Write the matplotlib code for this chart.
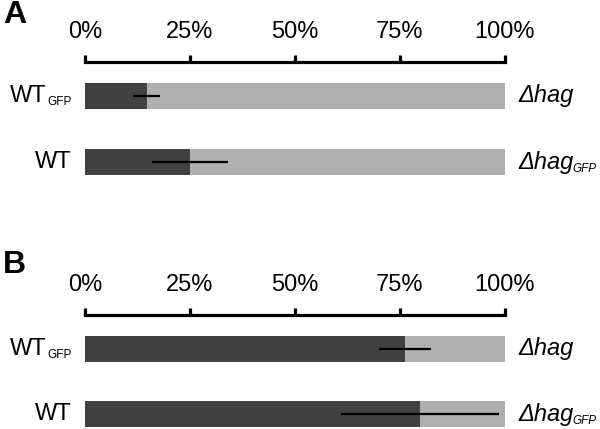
import numpy as np
import matplotlib
matplotlib.use("Agg")
import matplotlib.pyplot as plt
import matplotlib.transforms as mtransforms

plt.rcParams['font.family'] = ['Liberation Sans', 'DejaVu Sans']

# data (percent of dark fraction)
left_main = ["WT", "WT"]
left_sub = ["GFP", ""]
right_main = ["Δhag", "Δhag"]
right_sub = ["", "GFP"]
ticks = [0, 25, 50, 75, 100]
tick_labels = ["0%", "25%", "50%", "75%", "100%"]

a_vals = [14.7, 25.0]
a_err = [3.2, 9.1]
b_vals = [76.2, 79.8]
b_err = [6.2, 18.8]

dark = "#414141"
light = "#afafaf"
fs = 17
fs_sub = 8.5

fig = plt.figure(figsize=(6, 4.29), dpi=100)
W, H = 600, 429
pending = []


def panel(top_px, bottom_px, vals, errs, letter, letter_y, ymax):
    ax = fig.add_axes([85 / W, 1 - bottom_px / H, 420 / W, (bottom_px - top_px) / H])
    y = np.arange(len(vals))
    vals = np.array(vals)
    ax.barh(y, vals, height=0.394, color=dark, linewidth=0)
    ax.barh(y, 100 - vals, left=vals, height=0.394, color=light, linewidth=0)
    ax.errorbar(vals, y, xerr=errs, fmt="none", ecolor="black", elinewidth=1.6, capsize=0)
    ax.set_xlim(0, 100)
    ax.set_ylim(ymax, -0.515)
    for s in ["left", "right", "bottom"]:
        ax.spines[s].set_visible(False)
    ax.spines["top"].set_linewidth(2.3)
    ax.xaxis.tick_top()
    ax.set_xticks(ticks)
    ax.set_xticklabels(tick_labels, fontsize=fs)
    ax.tick_params(axis="x", direction="out", length=5, width=2.3, pad=9)
    ax.set_yticks([])
    trans = mtransforms.blended_transform_factory(ax.transAxes, ax.transData)
    for yi in y:
        # left label, right aligned, with optional subscript
        wt = ax.annotate(left_main[yi], xy=(0, yi), xycoords=trans, xytext=(-13, 0),
                         textcoords="offset pixels", ha="right", va="center", fontsize=fs)
        if left_sub[yi]:
            sub = ax.annotate(left_sub[yi], xy=(1, 0), xycoords=wt, xytext=(1, 2),
                              textcoords="offset pixels", ha="left", va="baseline",
                              fontsize=fs_sub)
            pending.append((wt, sub))
        # right label, italic
        rt = ax.annotate(right_main[yi], xy=(1, yi), xycoords=trans, xytext=(13, 0),
                         textcoords="offset pixels", ha="left", va="center",
                         fontsize=fs, style="italic")
        if right_sub[yi]:
            ax.annotate(right_sub[yi], xy=(1, 0), xycoords=rt, xytext=(-1, 2),
                        textcoords="offset pixels", ha="left", va="baseline",
                        fontsize=fs_sub, style="italic")
    fig.text(3 / W, 1 - letter_y / H, letter, fontsize=23, fontweight="bold",
             va="center", ha="left")
    return ax


panel(62, 190, a_vals, a_err, "A", 15, 1.424)
panel(315, 429, b_vals, b_err, "B", 265, 1.227)

# shift labels that carry a subscript so the whole group ends at the same place
fig.canvas.draw()
r = fig.canvas.get_renderer()
for wt, sub in pending:
    w = sub.get_window_extent(r).width + 1
    wt.xyann = (-13 - w, 0)

fig.savefig("out.png", dpi=100)
